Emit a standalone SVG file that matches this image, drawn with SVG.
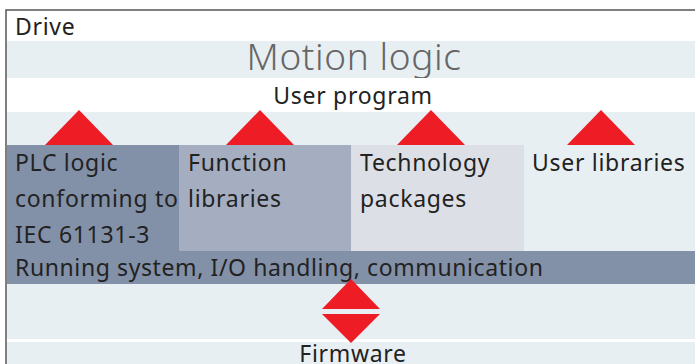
<svg xmlns="http://www.w3.org/2000/svg" width="695" height="364" viewBox="0 0 695 364">
<style>
text{font-family:"Noto Sans","Open Sans","DejaVu Sans",sans-serif;fill:#222}
.t{font-size:23px;letter-spacing:0.7px}
.c{text-anchor:middle}
.tri{fill:#ee1c25}
.light{fill:#e8eff3}
</style>
<rect x="0" y="0" width="695" height="364" fill="#fff"/>
<g id="frame">
<path d="M6,364 V10 H695" fill="none" stroke="#555" stroke-width="1.5"/>
<text x="15" y="35" class="t">Drive</text>
</g>
<g id="motion-logic">
<rect class="light" x="7" y="41" width="688" height="37"/>
<text x="354" y="70" class="c" style="font-size:37px;letter-spacing:0.6px;fill:#666;font-weight:300">Motion logic</text>
</g>
<g id="user-program">
<rect x="7" y="78" width="688" height="34" fill="#fff"/>
<text x="353" y="104" class="t c">User program</text>
<rect class="light" x="7" y="112" width="688" height="33"/>
</g>
<g id="plc-logic">
<rect x="7" y="145" width="172" height="106" fill="#8391a8"/>
<text class="t" x="15" y="171">PLC logic</text>
<text class="t" x="15" y="207">conforming to</text>
<text class="t" x="15" y="243">IEC 61131-3</text>
</g>
<g id="function-libraries">
<rect x="179" y="145" width="172" height="106" fill="#a5aec0"/>
<text class="t" x="188" y="171">Function</text>
<text class="t" x="188" y="207">libraries</text>
</g>
<g id="technology-packages">
<rect x="351" y="145" width="173" height="106" fill="#dcdfe6"/>
<text class="t" x="360" y="171">Technology</text>
<text class="t" x="360" y="207">packages</text>
</g>
<g id="user-libraries">
<rect class="light" x="524" y="145" width="171" height="106"/>
<text class="t" x="532" y="171">User libraries</text>
</g>
<g id="running-system">
<rect x="7" y="251" width="688" height="33" fill="#8391a8"/>
<text class="t" x="15" y="276" style="letter-spacing:0.6px">Running system, I/O handling, communication</text>
</g>
<g id="firmware">
<rect class="light" x="7" y="284" width="688" height="55"/>
<rect x="7" y="339" width="688" height="3" fill="#fff"/>
<rect class="light" x="7" y="342" width="688" height="22"/>
<text class="t c" x="353" y="362">Firmware</text>
</g>
<g id="connectors">
<polygon class="tri" points="79,110 45,145 113,145"/>
<polygon class="tri" points="260,110 226,145 294,145"/>
<polygon class="tri" points="431,110 397,145 465,145"/>
<polygon class="tri" points="601,110 567,145 635,145"/>
<polygon class="tri" points="351,279 322,309 380,309"/>
<polygon class="tri" points="322,314 380,314 351,343"/>
</g>
</svg>
